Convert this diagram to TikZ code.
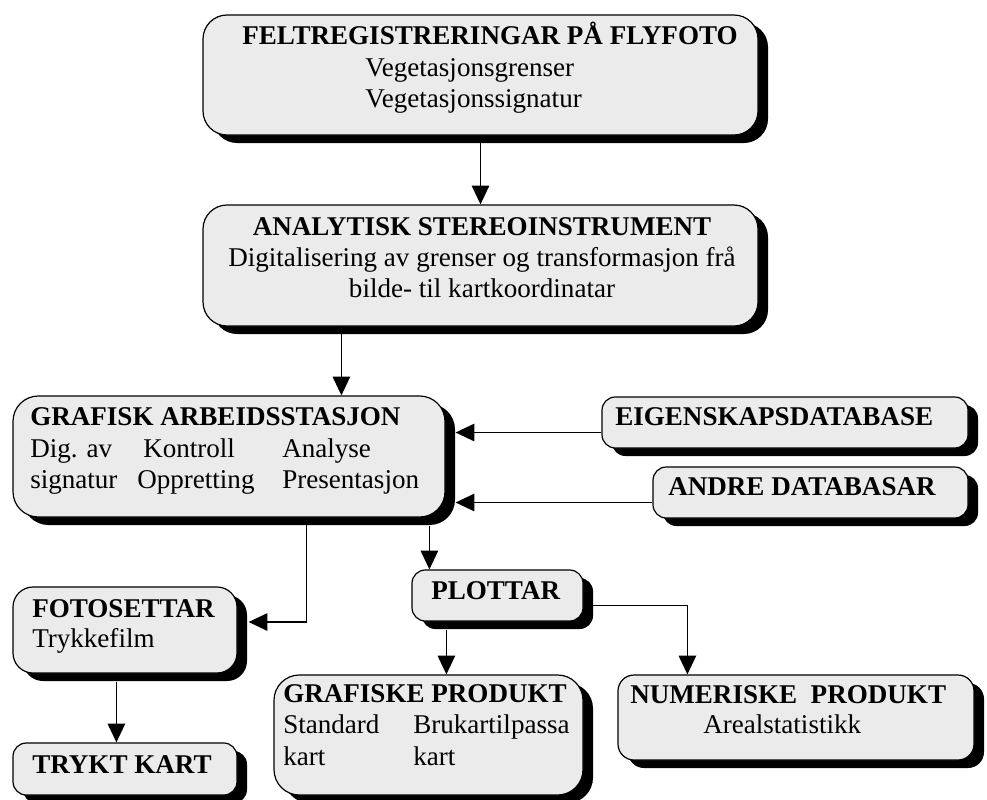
\documentclass[tikz,border=0pt]{standalone}
\usepackage{fontspec}
\setmainfont{Liberation Serif}
\usetikzlibrary{arrows.meta,shadows,fit,calc}
\definecolor{boxgray}{RGB}{235,235,235}
\begin{document}
\begin{tikzpicture}[x=0.75pt,y=-0.75pt,
  box/.style={draw=black, line width=0.9pt, fill=boxgray, inner sep=0pt,
    drop shadow={shadow xshift=7.5pt, shadow yshift=-6pt, fill=black, opacity=1}},
  bigbox/.style={box, rounded corners=18pt},
  smallbox/.style={box, rounded corners=10pt},
  txt/.style={inner sep=0pt, anchor=base west, font=\fontsize{20.3pt}{24pt}\selectfont},
  ctxt/.style={txt, anchor=base},
  ttl/.style={txt, font=\fontsize{20.3pt}{24pt}\selectfont\bfseries},
  cttl/.style={ttl, anchor=base},
  arr/.style={line width=1.1pt, -{Triangle[length=14pt,width=13pt]}},
  conn/.style={line width=1.1pt}
]
\useasboundingbox (0,0) rectangle (987,799);

% boxes
\node[bigbox, fit={(203,15) (758,135)}] (felt) {};
\node[bigbox, fit={(203,205) (758,326)}] (anal) {};
\node[bigbox, rounded corners=19pt, fit={(13,396) (445,517)}] (graf) {};
\node[smallbox, fit={(602,397) (968,448)}] (eig) {};
\node[smallbox, fit={(653,467) (968,518)}] (andre) {};
\node[box, rounded corners=15pt, fit={(13,587) (237,673)}] (foto) {};
\node[smallbox, fit={(13,743) (237,795)}] (trykt) {};
\node[smallbox, fit={(412,570) (583,621)}] (plot) {};
\node[bigbox, rounded corners=19pt, fit={(274,675) (583,795)}] (grafp) {};
\node[box, rounded corners=12pt, fit={(618,675) (974,760)}] (numer) {};

% texts
\node[cttl] (t1) at (490,45) {FELTREGISTRERINGAR PÅ FLYFOTO};
\node[txt] (t2) at (365,76) {Vegetasjonsgrenser};
\node[txt] (t3) at (365,107) {Vegetasjonssignatur};

\node[cttl] (t4) at (482,235) {ANALYTISK STEREOINSTRUMENT};
\node[ctxt] (t5) at (482,266) {Digitalisering av grenser og transformasjon frå};
\node[ctxt] (t6) at (482,297) {bilde- til kartkoordinatar};

\node[ttl] (t7) at (30,425) {GRAFISK ARBEIDSSTASJON};
\node[txt] (t8) at (30,457) {Dig. av};
\node[txt] (t9) at (143,457) {Kontroll};
\node[txt] (t10) at (282,457) {Analyse};
\node[txt] (t11) at (30,488) {signatur};
\node[txt] (t12) at (137,488) {Oppretting};
\node[txt] (t13) at (282,488) {Presentasjon};

\node[ttl] (t14) at (615,425) {EIGENSKAPSDATABASE};
\node[ttl] (t15) at (668,495) {ANDRE DATABASAR};

\node[ttl] (t16) at (32,617) {FOTOSETTAR};
\node[txt] (t17) at (32,647) {Trykkefilm};
\node[ttl] (t18) at (32,773) {TRYKT KART};

\node[ttl] (t19) at (431,599) {PLOTTAR};

\node[ttl] (t20) at (283,702) {GRAFISKE PRODUKT};
\node[txt] (t21) at (283,733) {Standard};
\node[txt] (t22) at (413,733) {Brukartilpassa};
\node[txt] (t23) at (283,765) {kart};
\node[txt] (t24) at (413,765) {kart};

\node[ttl] (t25) at (630,703) {NUMERISKE\ \ PRODUKT};
\node[txt] (t26) at (703,733) {Arealstatistikk};

% connector points
\coordinate (a1) at ($(anal.south west)+(139,0)$);
\coordinate (gR) at ($(graf.east)+(10,0)$);
\coordinate (e1) at ($(eig.west)+(0,10)$);
\coordinate (d1) at ($(andre.west)+(0,10)$);
\coordinate (g1) at ($(graf.south west)+(294,0)$);
\coordinate (fR) at ($(foto.east)+(11,-8)$);
\coordinate (g2) at ($(graf.south west)+(417,8)$);
\coordinate (p1) at ($(plot.south west)+(35,8)$);
\coordinate (p2) at ($(plot.east)+(9,10)$);
\coordinate (n1) at ($(numer.north west)+(70,0)$);
\coordinate (f1) at ($(foto.south west)+(104,8)$);

% connectors
\draw[arr] (felt.south) -- (anal.north);
\draw[arr] (a1) -- (a1 |- graf.north);
\draw[arr] (e1) -- (e1 -| gR);
\draw[arr] (d1) -- (d1 -| gR);
\draw[arr] (g1) -- (g1 |- fR) -- (fR);
\draw[arr] (g2) -- (g2 |- plot.north);
\draw[arr] (p1) -- (p1 |- grafp.north);
\draw[arr] (p2) -- (p2 -| n1) -- (n1);
\draw[arr] (f1) -- (f1 |- trykt.north);
\end{tikzpicture}
\end{document}
